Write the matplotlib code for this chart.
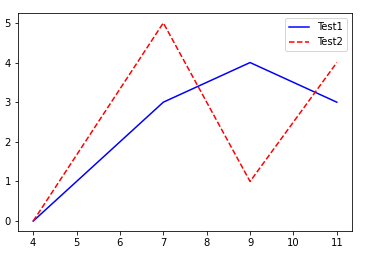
import matplotlib
matplotlib.use("Agg")
import matplotlib.pyplot as plt

x = [4, 7, 9, 11]
test1 = [0, 3, 4, 3]
test2 = [0, 5, 1, 4]

fig = plt.figure(figsize=(365/72, 257/72), dpi=72)
ax = fig.add_axes([18/365, 1-231/257, (352-18)/365, (231-13)/257])
ax.plot(x, test1, 'b-', label='Test1')
ax.plot(x, test2, 'r--', label='Test2')
ax.set_xticks(range(4, 12))
ax.set_yticks(range(0, 6))
ax.legend(loc='upper right')
fig.savefig('out.png', dpi=72)
